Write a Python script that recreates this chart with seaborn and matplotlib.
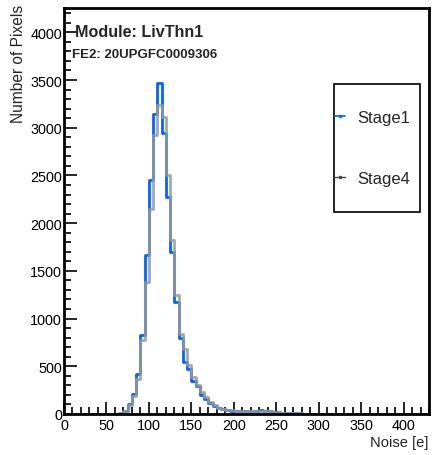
import matplotlib
matplotlib.use("Agg")
import matplotlib.pyplot as plt
from matplotlib.lines import Line2D
from matplotlib.patches import Rectangle
from matplotlib.ticker import MultipleLocator
import numpy as np
import pandas as pd
import seaborn as sns

BIN_WIDTH = 5
BIN_EDGES = list(range(0, 435, BIN_WIDTH))

# counts per 5 e bin, starting at 0 e
STAGE1_COUNTS = [
    0, 0, 0, 0, 0, 0, 0, 0, 0, 0, 0, 1,
    3, 10, 30, 100, 210, 420, 830, 1670, 2450, 3140,
    3470, 2950, 2270, 1700, 1170, 800, 545, 470, 350, 290,
    200, 160, 115, 80, 60, 48, 40, 35, 35, 30,
    32, 30, 35, 33, 38, 35, 30, 25, 20, 15,
    12, 10, 8, 7, 5, 4, 4, 3, 3, 2,
    2, 2, 1, 1, 1, 1, 1, 0, 0, 0,
    0, 0, 0, 0, 0, 0, 0, 0, 0, 0,
    0, 0, 0, 0,
]
STAGE4_COUNTS = [
    0, 0, 0, 0, 0, 0, 0, 0, 0, 0, 0, 1,
    3, 10, 28, 90, 190, 370, 780, 1380, 2150, 2920,
    3240, 3110, 2500, 1820, 1250, 840, 680, 513, 388, 304,
    230, 178, 127, 94, 65, 50, 42, 38, 33, 35,
    30, 32, 30, 35, 32, 33, 30, 25, 22, 15,
    12, 10, 8, 6, 5, 5, 3, 3, 3, 2,
    2, 1, 1, 1, 1, 1, 1, 0, 0, 0,
    0, 0, 0, 0, 0, 0, 0, 0, 0, 0,
    0, 0, 0, 0,
]
SERIES_NAMES = ["Stage1", "Stage4"]
SERIES_COLORS = ["#0066ff", "#999999"]

MODULE_TEXT = "Module: LivThn1"
FE_TEXT = "FE2: 20UPGFC0009306"

sns.set_theme(style="ticks")
plt.rcParams["font.family"] = ["Liberation Sans", "DejaVu Sans"]

centers = np.array(BIN_EDGES[:-1]) + BIN_WIDTH / 2
frames = []
for name, counts in zip(SERIES_NAMES, [STAGE1_COUNTS, STAGE4_COUNTS]):
    frames.append(pd.DataFrame({"noise": centers, "count": counts, "stage": name}))
df = pd.concat(frames, ignore_index=True)

fig = plt.figure(figsize=(4.32, 4.56), dpi=100)
ax = fig.add_axes([64 / 432, 41 / 456, 365 / 432, 406 / 456])

for name, color, alpha in zip(SERIES_NAMES, SERIES_COLORS, [1.0, 0.85]):
    sns.histplot(
        data=df[df["stage"] == name],
        x="noise",
        weights="count",
        bins=BIN_EDGES,
        element="step",
        fill=False,
        color=color,
        alpha=alpha,
        linewidth=2,
        ax=ax,
    )

ax.set_xlim(0, 430)
ax.set_ylim(0, 4255)
ax.xaxis.set_major_locator(MultipleLocator(50))
ax.xaxis.set_minor_locator(MultipleLocator(10))
ax.yaxis.set_major_locator(MultipleLocator(500))
ax.yaxis.set_minor_locator(MultipleLocator(100))
ax.tick_params(axis="both", which="both", direction="in", top=False, right=False,
               colors="black", labelsize=10.4)
ax.tick_params(axis="both", which="major", length=9, width=1.2)
ax.tick_params(axis="both", which="minor", length=5, width=1.2)
ax.tick_params(axis="y", pad=1.5)
ax.tick_params(axis="x", pad=3)
for side in ["left", "bottom", "top", "right"]:
    ax.spines[side].set_visible(True)
    ax.spines[side].set_color("black")
    ax.spines[side].set_linewidth(2)
ax.grid(False)

ax.set_ylabel("Number of Pixels", fontsize=11.2, loc="top")
ax.yaxis.set_label_coords(-0.105, 1.01)
ax.set_xlabel("Noise [e]", fontsize=10.6, loc="right")
ax.xaxis.set_label_coords(0.997, -0.052)

ax.text(0.03, 0.941, MODULE_TEXT, transform=ax.transAxes, fontsize=11.6,
        fontweight="bold", va="center", ha="left")
ax.text(0.022, 0.887, FE_TEXT, transform=ax.transAxes, fontsize=9.5,
        fontweight="bold", va="center", ha="left")

ax.add_patch(Rectangle((0.740, 0.4975), 0.235, 0.3155, transform=ax.transAxes,
                       facecolor="white", edgecolor="black", linewidth=1.2, zorder=4))
handles = [
    Line2D([0], [0], color=SERIES_COLORS[0], lw=1.2, marker=".", markersize=3),
    Line2D([0], [0], color="#444444", lw=1.0, marker=".", markersize=3),
]
leg = ax.legend(handles, SERIES_NAMES, loc="center left", bbox_to_anchor=(0.742, 0.655),
                frameon=False, fontsize=12, handlelength=0.6, handletextpad=0.75,
                labelspacing=2.75, borderpad=0, borderaxespad=0)
leg.set_zorder(5)

fig.savefig("out.png", dpi=100)
